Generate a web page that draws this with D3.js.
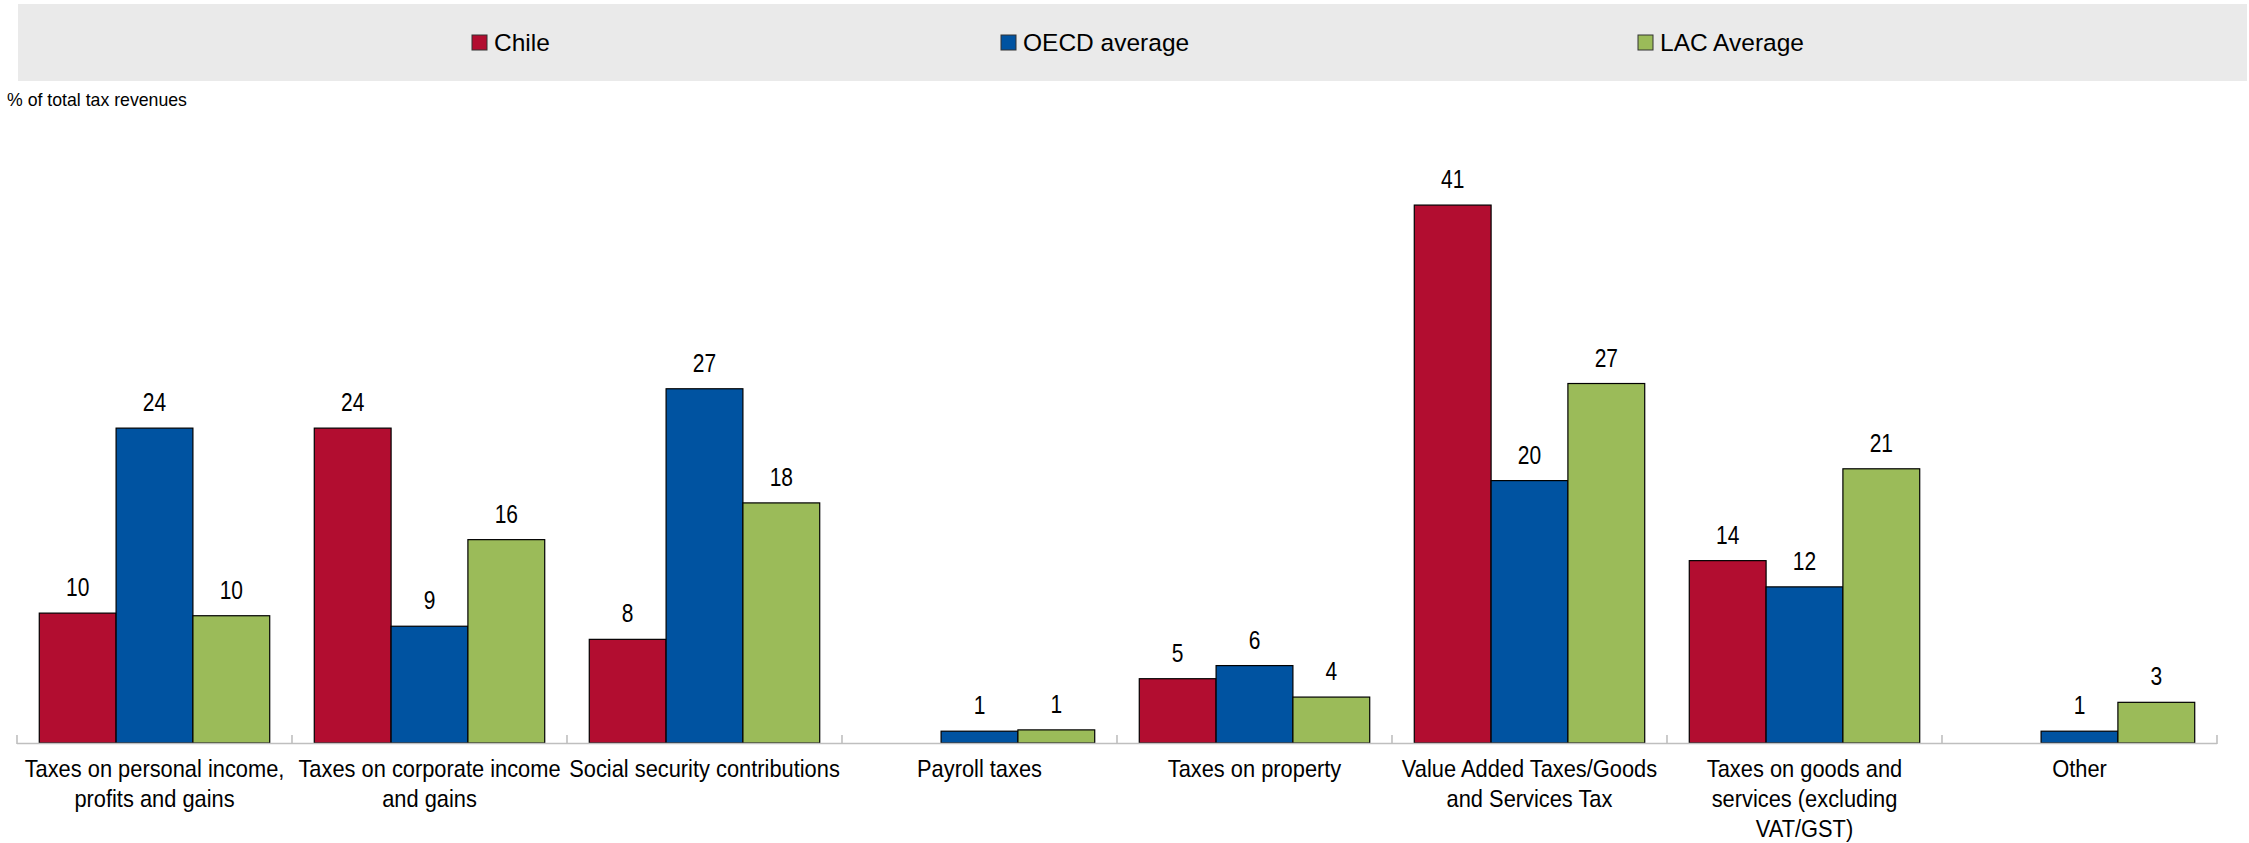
<!DOCTYPE html>
<html>
<head>
<meta charset="utf-8">
<script src="https://cdn.jsdelivr.net/npm/d3@7/dist/d3.min.js"></script>
<style>
  html, body { margin: 0; padding: 0; background: #fff; }
  svg { display: block; }
  text { font-family: "Liberation Sans", Arial, sans-serif; fill: #000; }
</style>
</head>
<body>
<svg id="chart" width="2249" height="843"></svg>
<script>
// Tax structure: share of total tax revenues by tax category
const categories = [
  "Taxes on personal income,\nprofits and gains",
  "Taxes on corporate income\nand gains",
  "Social security contributions",
  "Payroll taxes",
  "Taxes on property",
  "Value Added Taxes/Goods\nand Services Tax",
  "Taxes on goods and\nservices (excluding\nVAT/GST)",
  "Other"
];
const seriesNames = ["Chile", "OECD average", "LAC Average"];
const chile = [9.9, 24.0, 7.9, null, 4.9, 41.0, 13.9, null];
const oecd  = [24.0, 8.9, 27.0, 0.9, 5.9, 20.0, 11.9, 0.9];
const lac   = [9.7, 15.5, 18.3, 1.0, 3.5, 27.4, 20.9, 3.1];
const yTitle = "% of total tax revenues";

const colors = ["#B20D30", "#0053A1", "#9BBB59"];
const seriesValues = [chile, oecd, lac];

const plot = { left: 17, right: 2217, baseline: 743 };

// Condensed lettering is obtained by squeezing the text horizontally
const narrowLabel = 0.84;   // value labels
const narrowCat = 0.91;     // category labels

const svg = d3.select("#chart");

// Legend band
svg.append("rect")
  .attr("x", 18).attr("y", 4).attr("width", 2229).attr("height", 77)
  .attr("fill", "#EAEAEA");

const legendX = [472, 1001, 1638];
const legend = svg.append("g").selectAll("g")
  .data(seriesNames)
  .join("g")
  .attr("transform", (d, i) => `translate(${legendX[i]},35)`);
legend.append("rect")
  .attr("width", 15).attr("height", 15)
  .attr("fill", (d, i) => colors[i])
  .attr("stroke", "#333").attr("stroke-width", 1);
legend.append("text")
  .attr("x", 22).attr("y", 16)
  .attr("font-size", 24.5)
  .text(d => d);

// Axis title
svg.append("text")
  .attr("x", 7).attr("y", 106)
  .attr("font-size", 17.7)
  .text(yTitle);

// Scales
const x0 = d3.scaleBand()
  .domain(categories)
  .range([plot.left, plot.right])
  .padding(0);
const x1 = d3.scaleBand()
  .domain(seriesNames)
  .range([0, x0.bandwidth()])
  .paddingInner(0)
  .paddingOuter(0.29);
const y = d3.scaleLinear()
  .domain([0, 45])
  .range([plot.baseline, plot.baseline - 45 * 13.12]);

// Bars
const rows = categories.map((c, ci) => ({
  cat: c,
  vals: seriesNames.map((s, si) => ({ s, si, v: seriesValues[si][ci] }))
}));

const groups = svg.append("g").selectAll("g")
  .data(rows)
  .join("g")
  .attr("transform", d => `translate(${x0(d.cat)},0)`);

groups.selectAll("rect")
  .data(d => d.vals.filter(e => e.v != null))
  .join("rect")
  .attr("x", d => x1(d.s))
  .attr("y", d => y(d.v))
  .attr("width", x1.bandwidth())
  .attr("height", d => y(0) - y(d.v))
  .attr("fill", d => colors[d.si])
  .attr("stroke", "#000")
  .attr("stroke-width", 1.2);

// Value labels
const fmt = d3.format(".0f");
groups.selectAll("text.val")
  .data(d => d.vals.filter(e => e.v != null))
  .join("text")
  .attr("class", "val")
  .attr("transform", d => `translate(${x1(d.s) + x1.bandwidth() / 2},${y(d.v) - 17}) scale(${narrowLabel},1)`)
  .attr("text-anchor", "middle")
  .attr("font-size", 25)
  .text(d => fmt(d.v));

// Category axis with separators between groups
const axisG = svg.append("g");
axisG.append("line")
  .attr("x1", plot.left).attr("x2", plot.right)
  .attr("y1", plot.baseline + 0.5).attr("y2", plot.baseline + 0.5)
  .attr("stroke", "#BFBFBF").attr("stroke-width", 1.6);
const sepX = categories.map(c => x0(c)).concat([x0(categories[categories.length - 1]) + x0.bandwidth()]);
axisG.selectAll("line.sep")
  .data(sepX)
  .join("line")
  .attr("class", "sep")
  .attr("x1", d => d).attr("x2", d => d)
  .attr("y1", plot.baseline - 8).attr("y2", plot.baseline + 1)
  .attr("stroke", "#BFBFBF").attr("stroke-width", 1.6);

// Category labels
const catLabels = svg.append("g").selectAll("text")
  .data(categories)
  .join("text")
  .attr("transform", d => `translate(${x0(d) + x0.bandwidth() / 2},777) scale(${narrowCat},1)`)
  .attr("text-anchor", "middle")
  .attr("font-size", 24);
catLabels.selectAll("tspan")
  .data(d => d.split("\n").map((t, i) => ({ t, i })))
  .join("tspan")
  .attr("x", 0)
  .attr("dy", d => d.i === 0 ? 0 : 30)
  .text(d => d.t);
</script>
</body>
</html>
